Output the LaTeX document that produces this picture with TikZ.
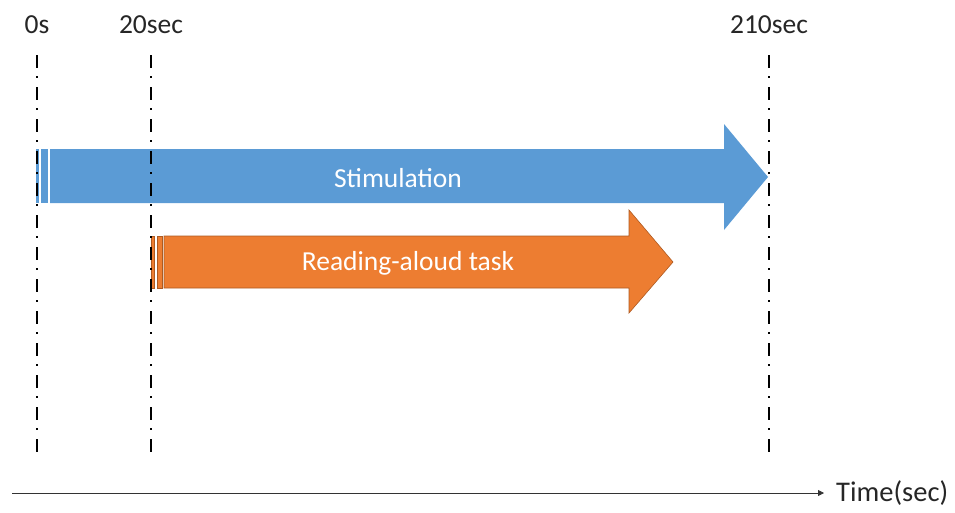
\documentclass[tikz,border=0pt]{standalone}
\usepackage{fontspec}
\setmainfont{Carlito}
\usetikzlibrary{arrows.meta}
\definecolor{cblue}{HTML}{5B9BD5}
\definecolor{corange}{HTML}{ED7D31}
\definecolor{cobrd}{HTML}{AE5A21}
\tikzset{
  lbl/.style={font=\fontsize{27.5}{30}\selectfont, text=black!85, inner sep=0pt},
  intext/.style={font=\fontsize{27.5}{30}\selectfont, text=white, inner sep=0pt},
  guide/.style={line width=2pt, black, dash pattern=on 13pt off 8pt on 2pt off 9pt},
  axis/.style={line width=0.8pt, black!80, -{Triangle[length=6pt,width=6pt]}, shorten >=12pt},
}
\begin{document}
\begin{tikzpicture}[x=1pt,y=-1pt]
\useasboundingbox (0,0) rectangle (955,512);
% labels
\node[lbl] (l0) at (37,25) {0s};
\node[lbl] (l20) at (151,25) {20sec};
\node[lbl] (l210) at (769,25) {210sec};
% blue arrow
\fill[cblue] (36,149) rectangle (39,203);
\fill[cblue] (41,149) rectangle (48,203);
\fill[cblue] (50,149) -- (724,149) -- (724,124) -- (768,177) -- (724,230) -- (724,203) -- (50,203) -- cycle;
\node[intext] (stim) at (398,178) {Stimulation};
% orange arrow
\filldraw[fill=corange, draw=cobrd, line width=0.6pt] (151,236) rectangle (154,288);
\filldraw[fill=corange, draw=cobrd, line width=0.6pt] (157,236) rectangle (162,288);
\filldraw[fill=corange, draw=cobrd, line width=0.6pt] (164,236) -- (629,236) -- (629,210) -- (673,262) -- (629,313) -- (629,288) -- (164,288) -- cycle;
\node[intext] (read) at (408,263) {Reading-aloud task};
% guide lines
\coordinate (t0) at (37,55); \coordinate (b0) at (37,452);
\coordinate (t20) at (151,55); \coordinate (b20) at (151,452);
\coordinate (t210) at (769,55); \coordinate (b210) at (769,452);
\draw[guide] (t0) -- (b0);
\draw[guide] (t20) -- (b20);
\draw[guide] (t210) -- (b210);
% axis
\coordinate (ax0) at (12,493);
\node[lbl, anchor=west, font=\fontsize{28.5}{30}\selectfont] (time) at (836,493) {Time(sec)};
\draw[axis] (ax0) -- (time.west);
\end{tikzpicture}
\end{document}
